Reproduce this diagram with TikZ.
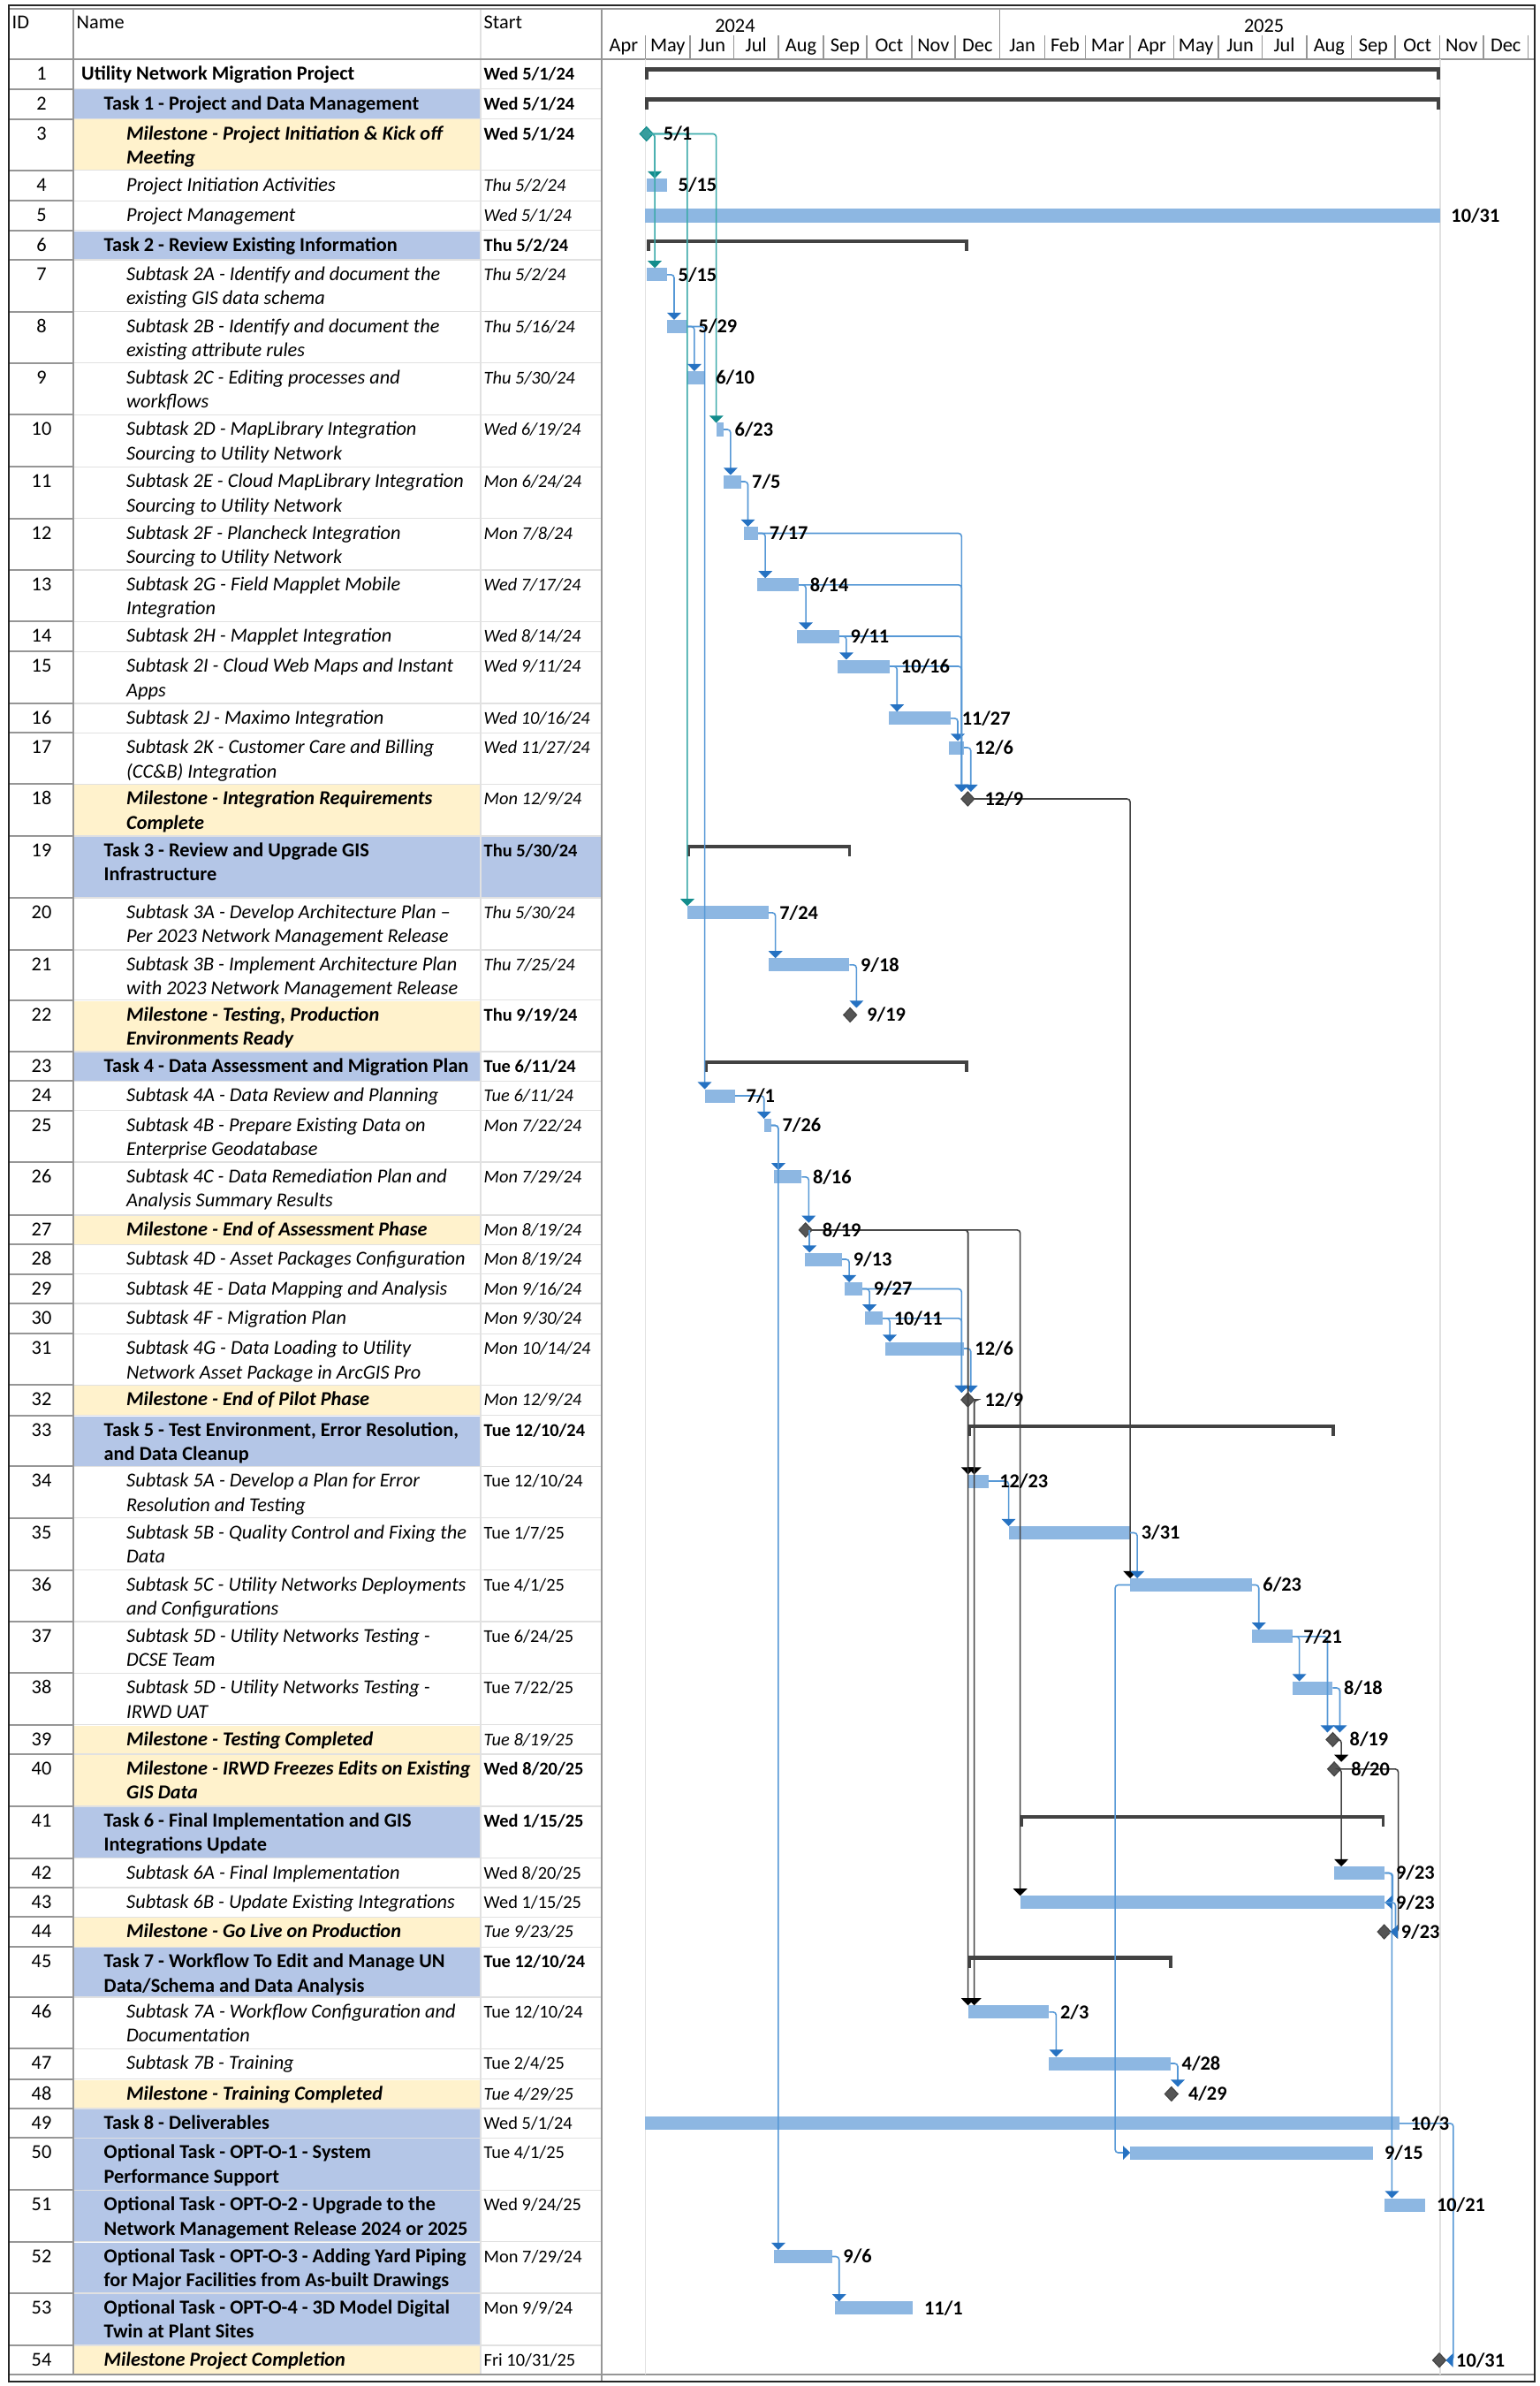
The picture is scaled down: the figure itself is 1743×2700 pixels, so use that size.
\documentclass[tikz,border=0pt]{standalone}
\usepackage{fontspec}
\setmainfont{Carlito}
\usetikzlibrary{arrows.meta,shapes.geometric,positioning,calc}

\definecolor{taskfill}{RGB}{180,198,231}
\definecolor{msfill}{RGB}{255,242,204}
\definecolor{barfill}{RGB}{141,183,226}
\definecolor{linkline}{RGB}{86,152,214}
\definecolor{linkhead}{RGB}{38,114,194}
\definecolor{critline}{RGB}{60,170,170}
\definecolor{crithead}{RGB}{18,140,140}
\definecolor{sumgray}{RGB}{66,66,66}
\definecolor{msgray}{RGB}{85,85,85}
\definecolor{rulegray}{RGB}{150,150,150}
\definecolor{lightrule}{RGB}{225,225,225}

\newcommand{\gfont}{\fontsize{6.35}{7.82}\selectfont}
\newcommand{\sfont}{\fontsize{5.8}{7.82}\selectfont}
\newcommand{\dayx}[1]{730.4+1.638*(#1)}

% one table row: id, top, name style, indent, name, start style, start
\newcommand{\trow}[7]{%
  \node[idtext] (id#1) at (47,{#2+3.4}) {\strut#1};
  \node[namecell,#3] (n#1) at (#4,{#2+3.4}) {\strut#5};
  \node[namecell,#6] (s#1) at (547,{#2+3.4}) {\strut#7};
}
% task bar: name, y, start day, finish day
\newcommand{\gbar}[4]{%
  \node[taskbar,minimum width={(#4-#3)*0.01638cm}] (#1) at ({\dayx{#3}},#2) {};}
% summary bracket: name, y, start day, finish day
\newcommand{\gsum}[4]{%
  \fill[sumgray] ({\dayx{#3}},{#2-7}) rectangle ({\dayx{#4}},{#2-2.5});
  \fill[sumgray] ({\dayx{#3}},{#2-7}) rectangle ({\dayx{#3}+3.5},{#2+6.5});
  \fill[sumgray] ({\dayx{#4}-3.5},{#2-7}) rectangle ({\dayx{#4}},{#2+6.5});
  \coordinate (#1) at ({\dayx{#3}},#2);}

\begin{document}
\begin{tikzpicture}[x=0.01cm,y=-0.01cm,
  idtext/.style={font=\gfont,anchor=north,inner sep=0},
  namecell/.style={anchor=north west,inner sep=0,align=left,font=\gfont},
  toprow/.style={font=\gfont\bfseries},
  taskrow/.style={font=\gfont\bfseries},
  subrow/.style={font=\gfont\itshape},
  msrow/.style={font=\gfont\bfseries\itshape},
  sbold/.style={font=\sfont\bfseries},
  sital/.style={font=\sfont\itshape},
  splain/.style={font=\sfont},
  hdr/.style={font=\gfont,anchor=base,inner sep=0},
  taskbar/.style={anchor=west,fill=barfill,inner sep=0,outer sep=0,minimum height=0.15cm},
  mstone/.style={diamond,fill=msgray,draw=sumgray,line width=0.3pt,inner sep=0,outer sep=0,minimum width=0.15cm,minimum height=0.16cm},
  dlabel/.style={font=\gfont\bfseries,inner sep=0},
  link/.style={draw=linkline,line width=0.45pt,rounded corners=1pt,-{Triangle[width=4.4pt,length=2.3pt,color=linkhead]}},
  critlink/.style={link,draw=critline,-{Triangle[width=4.4pt,length=2.3pt,color=crithead]}},
  blacklink/.style={link,draw=sumgray,-{Triangle[width=4.4pt,length=2.3pt,color=black]}}]
\useasboundingbox (0,0) rectangle (1743,2700);
\fill[white] (0,0) rectangle (1743,2700);

% row shading
\foreach \a/\b in {100.7/134.7,260.7/294,946/1016,1190/1223.3,1601.7/1659.3,2044/2102.7,2203.3/2260,2386/2419.3,2419.3/2478.3,2478.3/2536.7,2536.7/2595,2595/2654}
  \fill[taskfill] (84,{\a+0.8}) rectangle (544,{\b-0.4});
\fill[taskfill] (544,946.8) rectangle (681,1015.6);
\foreach \a/\b in {134.7/192.7,887.3/946,1131.7/1190,1375/1408.3,1567.3/1601.7,1951.7/1985,1985/2044,2169.3/2203.3,2352.7/2386,2654/2686.7}
  \fill[msfill] (84,{\a+0.8}) rectangle (544,{\b-0.4});

% table rules
\foreach \b in {100.7,134.7,192.7,227.3,260.7,294,352.7,410.7,469.3,528.3,586.7,645,703.3,737.3,796,829.3,887.3,946,1016,1075,1131.7,1190,1223.3,1256.7,1315,1375,1408.3,1441.7,1475,1509.3,1567.3,1601.7,1659.3,1717.7,1776.7,1835,1893.3,1951.7,1985,2044,2102.7,2136,2169.3,2203.3,2260,2318.3,2352.7,2386,2419.3,2478.3,2536.7,2595,2654} {
  \draw[rulegray,line width=0.5pt] (10,\b) -- (83,\b);
  \draw[lightrule,line width=0.4pt] (83,\b) -- (681,\b);
}
\draw[rulegray,line width=0.5pt] (83,10) -- (83,2686.7);
\draw[lightrule,line width=0.5pt] (544,10) -- (544,2686.7);
\draw[rulegray,line width=0.5pt] (681,10) -- (681,2695);
\draw[rulegray,line width=0.5pt] (10,66.7) -- (1737,66.7);
\draw[rulegray,line width=0.4pt] (10,10) -- (1737,10);
\draw[rulegray,line width=0.5pt] (10,2686.7) -- (1737,2686.7);
\draw[lightrule,line width=0.5pt] ({\dayx{0}},66.7) -- ({\dayx{0}},2686.7);
\draw[lightrule,line width=0.5pt] ({\dayx{549}},66.7) -- ({\dayx{549}},2686.7);
\draw[black!85,line width=0.6pt] (10,6) rectangle (1737,2695);

% header
\node[anchor=base west,inner sep=0,font=\gfont] (hid) at (13,33) {ID};
\node[anchor=base west,inner sep=0,font=\gfont] (hname) at (86,33) {Name};
\node[anchor=base west,inner sep=0,font=\gfont] (hstart) at (547,33) {Start};
\node[hdr] (y2024) at ({\dayx{62}},36.5) {2024};
\node[hdr] (y2025) at ({\dayx{427.5}},36.5) {2025};
\draw[rulegray,line width=0.4pt] ({\dayx{245}},10) -- ({\dayx{245}},66.7);
\foreach \s/\e/\m [count=\k] in {-30/0/Apr,0/31/May,31/61/Jun,61/92/Jul,92/123/Aug,123/153/Sep,153/184/Oct,184/214/Nov,214/245/Dec,245/276/Jan,276/304/Feb,304/335/Mar,335/365/Apr,365/396/May,396/426/Jun,426/457/Jul,457/488/Aug,488/518/Sep,518/549/Oct,549/579/Nov,579/610/Dec} {
  \draw[rulegray,line width=0.4pt] ({\dayx{\e}},40) -- ({\dayx{\e}},66.7);
  \node[hdr] (mon\k) at ({\dayx{(\s+\e)/2}},59) {\m};
}

% table rows
\trow{1}{66.7}{toprow}{91.5}{Utility Network Migration Project}{sbold}{Wed 5/1/24}
\trow{2}{100.7}{taskrow}{117}{Task 1 - Project and Data Management}{sbold}{Wed 5/1/24}
\trow{3}{134.7}{msrow}{142.5}{Milestone - Project Initiation \& Kick off\\Meeting}{sbold}{Wed 5/1/24}
\trow{4}{192.7}{subrow}{142.5}{Project Initiation Activities}{sital}{Thu 5/2/24}
\trow{5}{227.3}{subrow}{142.5}{Project Management}{sital}{Wed 5/1/24}
\trow{6}{260.7}{taskrow}{117}{Task 2 - Review Existing Information}{sbold}{Thu 5/2/24}
\trow{7}{294}{subrow}{142.5}{Subtask 2A - Identify and document the\\existing GIS data schema}{sital}{Thu 5/2/24}
\trow{8}{352.7}{subrow}{142.5}{Subtask 2B - Identify and document the\\existing attribute rules}{sital}{Thu 5/16/24}
\trow{9}{410.7}{subrow}{142.5}{Subtask 2C - Editing processes and\\workflows}{sital}{Thu 5/30/24}
\trow{10}{469.3}{subrow}{142.5}{Subtask 2D - MapLibrary Integration\\Sourcing to Utility Network}{sital}{Wed 6/19/24}
\trow{11}{528.3}{subrow}{142.5}{Subtask 2E - Cloud MapLibrary Integration\\Sourcing to Utility Network}{sital}{Mon 6/24/24}
\trow{12}{586.7}{subrow}{142.5}{Subtask 2F - Plancheck Integration\\Sourcing to Utility Network}{sital}{Mon 7/8/24}
\trow{13}{645}{subrow}{142.5}{Subtask 2G - Field Mapplet Mobile\\Integration}{sital}{Wed 7/17/24}
\trow{14}{703.3}{subrow}{142.5}{Subtask 2H - Mapplet Integration}{sital}{Wed 8/14/24}
\trow{15}{737.3}{subrow}{142.5}{Subtask 2I - Cloud Web Maps and Instant\\Apps}{sital}{Wed 9/11/24}
\trow{16}{796}{subrow}{142.5}{Subtask 2J - Maximo Integration}{sital}{Wed 10/16/24}
\trow{17}{829.3}{subrow}{142.5}{Subtask 2K - Customer Care and Billing\\(CC\&B) Integration}{sital}{Wed 11/27/24}
\trow{18}{887.3}{msrow}{142.5}{Milestone - Integration Requirements\\Complete}{sital}{Mon 12/9/24}
\trow{19}{946}{taskrow}{117}{Task 3 - Review and Upgrade GIS\\Infrastructure}{sbold}{Thu 5/30/24}
\trow{20}{1016}{subrow}{142.5}{Subtask 3A - Develop Architecture Plan –\\Per 2023 Network Management Release}{sital}{Thu 5/30/24}
\trow{21}{1075}{subrow}{142.5}{Subtask 3B - Implement Architecture Plan\\with 2023 Network Management Release}{sital}{Thu 7/25/24}
\trow{22}{1131.7}{msrow}{142.5}{Milestone - Testing, Production\\Environments Ready}{sbold}{Thu 9/19/24}
\trow{23}{1190}{taskrow}{117}{Task 4 - Data Assessment and Migration Plan}{sbold}{Tue 6/11/24}
\trow{24}{1223.3}{subrow}{142.5}{Subtask 4A - Data Review and Planning}{sital}{Tue 6/11/24}
\trow{25}{1256.7}{subrow}{142.5}{Subtask 4B - Prepare Existing Data on\\Enterprise Geodatabase}{sital}{Mon 7/22/24}
\trow{26}{1315}{subrow}{142.5}{Subtask 4C - Data Remediation Plan and\\Analysis Summary Results}{sital}{Mon 7/29/24}
\trow{27}{1375}{msrow}{142.5}{Milestone - End of Assessment Phase}{sital}{Mon 8/19/24}
\trow{28}{1408.3}{subrow}{142.5}{Subtask 4D - Asset Packages Configuration}{sital}{Mon 8/19/24}
\trow{29}{1441.7}{subrow}{142.5}{Subtask 4E - Data Mapping and Analysis}{sital}{Mon 9/16/24}
\trow{30}{1475}{subrow}{142.5}{Subtask 4F - Migration Plan}{sital}{Mon 9/30/24}
\trow{31}{1509.3}{subrow}{142.5}{Subtask 4G - Data Loading to Utility\\Network Asset Package in ArcGIS Pro}{sital}{Mon 10/14/24}
\trow{32}{1567.3}{msrow}{142.5}{Milestone - End of Pilot Phase}{sital}{Mon 12/9/24}
\trow{33}{1601.7}{taskrow}{117}{Task 5 - Test Environment, Error Resolution,\\and Data Cleanup}{sbold}{Tue 12/10/24}
\trow{34}{1659.3}{subrow}{142.5}{Subtask 5A - Develop a Plan for Error\\Resolution and Testing}{splain}{Tue 12/10/24}
\trow{35}{1717.7}{subrow}{142.5}{Subtask 5B - Quality Control and Fixing the\\Data}{splain}{Tue 1/7/25}
\trow{36}{1776.7}{subrow}{142.5}{Subtask 5C - Utility Networks Deployments\\and Configurations}{splain}{Tue 4/1/25}
\trow{37}{1835}{subrow}{142.5}{Subtask 5D - Utility Networks Testing -\\DCSE Team}{splain}{Tue 6/24/25}
\trow{38}{1893.3}{subrow}{142.5}{Subtask 5D - Utility Networks Testing -\\IRWD UAT}{splain}{Tue 7/22/25}
\trow{39}{1951.7}{msrow}{142.5}{Milestone - Testing Completed}{sital}{Tue 8/19/25}
\trow{40}{1985}{msrow}{142.5}{Milestone - IRWD Freezes Edits on Existing\\GIS Data}{sbold}{Wed 8/20/25}
\trow{41}{2044}{taskrow}{117}{Task 6 - Final Implementation and GIS\\Integrations Update}{sbold}{Wed 1/15/25}
\trow{42}{2102.7}{subrow}{142.5}{Subtask 6A - Final Implementation}{splain}{Wed 8/20/25}
\trow{43}{2136}{subrow}{142.5}{Subtask 6B - Update Existing Integrations}{splain}{Wed 1/15/25}
\trow{44}{2169.3}{msrow}{142.5}{Milestone - Go Live on Production}{sital}{Tue 9/23/25}
\trow{45}{2203.3}{taskrow}{117}{Task 7 - Workflow To Edit and Manage UN\\Data/Schema and Data Analysis}{sbold}{Tue 12/10/24}
\trow{46}{2260}{subrow}{142.5}{Subtask 7A - Workflow Configuration and\\Documentation}{splain}{Tue 12/10/24}
\trow{47}{2318.3}{subrow}{142.5}{Subtask 7B - Training}{splain}{Tue 2/4/25}
\trow{48}{2352.7}{msrow}{142.5}{Milestone - Training Completed}{sital}{Tue 4/29/25}
\trow{49}{2386}{taskrow}{117}{Task 8 - Deliverables}{splain}{Wed 5/1/24}
\trow{50}{2419.3}{taskrow}{117}{Optional Task - OPT-O-1 - System\\Performance Support}{splain}{Tue 4/1/25}
\trow{51}{2478.3}{taskrow}{117}{Optional Task - OPT-O-2 - Upgrade to the\\Network Management Release 2024 or 2025}{splain}{Wed 9/24/25}
\trow{52}{2536.7}{taskrow}{117}{Optional Task - OPT-O-3 - Adding Yard Piping\\for Major Facilities from As-built Drawings}{splain}{Mon 7/29/24}
\trow{53}{2595}{taskrow}{117}{Optional Task - OPT-O-4 - 3D Model Digital\\Twin at Plant Sites}{splain}{Mon 9/9/24}
\trow{54}{2654}{msrow}{117}{Milestone Project Completion}{splain}{Fri 10/31/25}

% summary brackets
\gsum{g1}{83.5}{0}{549}
\gsum{g2}{117.5}{0}{549}
\gsum{g6}{277.5}{1}{223}
\gsum{g19}{962.8}{29}{142}
\gsum{g23}{1206.8}{41}{223}
\gsum{g33}{1618.5}{223}{476.5}
\gsum{g41}{2060.8}{259}{511}
\gsum{g45}{2220}{223}{364}

% task bars
\gbar{t4}{209.5}{1}{15}
\gbar{t5}{244}{0}{549}
\gbar{t7}{310.8}{1}{15}
\gbar{t8}{369.5}{15}{29}
\gbar{t9}{427.5}{29}{41}
\gbar{t10}{486}{49}{54}
\gbar{t11}{545}{54}{66}
\gbar{t12}{603.5}{68}{78}
\gbar{t13}{661.8}{77}{106}
\gbar{t14}{720}{105}{134}
\gbar{t15}{754}{133}{169}
\gbar{t16}{812.8}{168}{211}
\gbar{t17}{846}{210}{220}
\gbar{t20}{1032.8}{29}{85}
\gbar{t21}{1091.8}{85}{141}
\gbar{t24}{1240}{41}{62}
\gbar{t25}{1273.5}{82}{87}
\gbar{t26}{1331.8}{89}{108}
\gbar{t28}{1425}{110}{136}
\gbar{t29}{1458.5}{138}{150}
\gbar{t30}{1491.8}{152}{164}
\gbar{t31}{1526}{166}{220}
\gbar{t34}{1676}{223}{237}
\gbar{t35}{1734.5}{251}{335}
\gbar{t36}{1793.5}{335}{419}
\gbar{t37}{1851.8}{419}{447}
\gbar{t38}{1910}{447}{475}
\gbar{t42}{2119.5}{476}{511}
\gbar{t43}{2152.8}{259}{511}
\gbar{t46}{2276.8}{223}{279}
\gbar{t47}{2335}{279}{363}
\gbar{t49}{2402.8}{0}{521}
\gbar{t50}{2436}{335}{503}
\gbar{t51}{2495}{511}{539}
\gbar{t52}{2553.5}{89}{129}
\gbar{t53}{2611.8}{131}{185}

% milestones
\node[mstone,fill=crithead!85,draw=crithead] (m3) at ({\dayx{0.8}},151.5) {};
\node[mstone] (m18) at ({\dayx{222.8}},904) {};
\node[mstone] (m22) at ({\dayx{141.5}},1148.5) {};
\node[mstone] (m27) at ({\dayx{110.7}},1391.8) {};
\node[mstone] (m32) at ({\dayx{222.8}},1584) {};
\node[mstone] (m39) at ({\dayx{475}},1968.5) {};
\node[mstone] (m40) at ({\dayx{476}},2001.8) {};
\node[mstone] (m44) at ({\dayx{510.5}},2186) {};
\node[mstone] (m48) at ({\dayx{363.5}},2369.5) {};
\node[mstone] (m54) at ({\dayx{548.6}},2670.8) {};

% links from the kick off milestone
\draw[critlink] (m3.east) -| ($(t4.north west)+(9,0)$);
\draw[critlink] (m3.east) -| ($(t7.north west)+(9,0)$);
\draw[critlink] (m3.east) -| (t20.north west);
\draw[critlink] (m3.east) -| (t10.north west);

% task 2 links
\draw[link] (t7.east) -| ($(t7.east |- t8.north)+(8,0)$);
\draw[link] (t8.east) -| ($(t8.east |- t9.north)+(8,0)$);
\draw[link] (t8.east) -| (t24.north west);
\draw[link] (t10.east) -| ($(t10.east |- t11.north)+(8,0)$);
\draw[link] (t11.east) -| ($(t11.east |- t12.north)+(8,0)$);
\draw[link] (t12.east) -| ($(t12.east |- t13.north)+(8,0)$);
\draw[link] (t13.east) -| ($(t13.east |- t14.north)+(8,0)$);
\draw[link] (t14.east) -| ($(t14.east |- t15.north)+(8,0)$);
\draw[link] (t15.east) -| ($(t15.east |- t16.north)+(8,0)$);
\draw[link] (t16.east) -| ($(t16.east |- t17.north)+(8,0)$);
\foreach \p in {t12,t13,t14,t15}
  \draw[link] (\p.east) -| ($(m18.north)+(-7,0)$);
\draw[link] (t17.east) -| ($(t17.east |- m18.north)+(8,0)$);

% task 3 links
\draw[link] (t20.east) -| ($(t20.east |- t21.north)+(8,0)$);
\draw[link] (t21.east) -| ($(t21.east |- m22.north)+(8,0)$);

% task 4 links
\draw[link] (t24.east) -| (t25.north west);
\draw[link] (t25.east) -| ($(t25.east |- t26.north)+(8,0)$);
\draw[link] (t25.east) -| ($(t25.east |- t52.north)+(8,0)$);
\draw[link] (t26.east) -| ($(t26.east |- m27.north)+(8,0)$);
\draw[link] ($(m27.center)+(4.5,0)$) -- ($(m27.center |- t28.north)+(4.5,0)$);
\draw[link] (t28.east) -| ($(t28.east |- t29.north)+(8,0)$);
\draw[link] (t29.east) -| ($(t29.east |- t30.north)+(8,0)$);
\draw[link] (t30.east) -| ($(t30.east |- t31.north)+(8,0)$);
\foreach \p in {t29,t30}
  \draw[link] (\p.east) -| ($(m32.north)+(-7,0)$);
\draw[link] (t31.east) -| ($(t31.east |- m32.north)+(8,0)$);

% task 5 and 6 links
\draw[blacklink] (m18.east) -| (t36.north west);
\draw[blacklink] (m27.east) -| (t34.north west);
\draw[blacklink] (m27.east) -| (t46.north west);
\draw[blacklink] (m27.east) -| (t43.north west);
\draw[blacklink] (m32.east) -| ($(t34.north west)+(7,0)$);
\draw[blacklink] (m32.east) -| ($(t46.north west)+(7,0)$);
\draw[link] (t34.east) -| (t35.north west);
\draw[link] (t35.east) -| ($(t35.east |- t36.north)+(8,0)$);
\draw[link] (t36.west) -- ++(-17,0) |- (t50.west);
\draw[link] (t36.east) -| ($(t36.east |- t37.north)+(8,0)$);
\draw[link] (t37.east) -| ($(t37.east |- t38.north)+(8,0)$);
\draw[link] (t37.east) -| ($(m39.north)+(-6,0)$);
\draw[link] (t38.east) -| ($(t38.east |- m39.north)+(8,0)$);
\draw[blacklink] (m39.east) -| ($(m40.north)+(8,0)$);
\draw[blacklink] (m40.east) -| ($(t42.north west)+(8,0)$);
\draw[blacklink] (m40.east) -- ++(65,0) |- (m44.east);
\draw[link] (t42.east) -| ($(t42.east |- t51.north)+(8,0)$);
\draw[link] (t42.east) -- ++(9,0) |- (t43.east);
\draw[link] (t43.east) -- ++(12,0) |- (m44.east);

% task 7, 8 and optional links
\draw[link] (t46.east) -| ($(t46.east |- t47.north)+(8,0)$);
\draw[link] (t47.east) -| ($(t47.east |- m48.north)+(8,0)$);
\draw[link] (t49.east) -- ++(61,0) |- (m54.east);
\draw[link] (t52.east) -| ($(t52.east |- t53.north)+(8,0)$);

% finish dates
\node[dlabel,right=0.11cm of m3] (l3) {5/1};
\node[dlabel,right=0.12cm of t4] (l4) {5/15};
\node[dlabel,right=0.12cm of t5] (l5) {10/31};
\node[dlabel,right=0.12cm of t7] (l7) {5/15};
\node[dlabel,right=0.12cm of t8] (l8) {5/29};
\node[dlabel,right=0.12cm of t9] (l9) {6/10};
\node[dlabel,right=0.12cm of t10] (l10) {6/23};
\node[dlabel,right=0.12cm of t11] (l11) {7/5};
\node[dlabel,right=0.12cm of t12] (l12) {7/17};
\node[dlabel,right=0.12cm of t13] (l13) {8/14};
\node[dlabel,right=0.12cm of t14] (l14) {9/11};
\node[dlabel,right=0.12cm of t15] (l15) {10/16};
\node[dlabel,right=0.12cm of t16] (l16) {11/27};
\node[dlabel,right=0.12cm of t17] (l17) {12/6};
\node[dlabel,right=0.11cm of m18] (l18) {12/9};
\node[dlabel,right=0.12cm of t20] (l20) {7/24};
\node[dlabel,right=0.12cm of t21] (l21) {9/18};
\node[dlabel,right=0.11cm of m22] (l22) {9/19};
\node[dlabel,right=0.12cm of t24] (l24) {7/1};
\node[dlabel,right=0.12cm of t25] (l25) {7/26};
\node[dlabel,right=0.12cm of t26] (l26) {8/16};
\node[dlabel,right=0.11cm of m27] (l27) {8/19};
\node[dlabel,right=0.12cm of t28] (l28) {9/13};
\node[dlabel,right=0.12cm of t29] (l29) {9/27};
\node[dlabel,right=0.12cm of t30] (l30) {10/11};
\node[dlabel,right=0.12cm of t31] (l31) {12/6};
\node[dlabel,right=0.11cm of m32] (l32) {12/9};
\node[dlabel,right=0.12cm of t34] (l34) {12/23};
\node[dlabel,right=0.12cm of t35] (l35) {3/31};
\node[dlabel,right=0.12cm of t36] (l36) {6/23};
\node[dlabel,right=0.12cm of t37] (l37) {7/21};
\node[dlabel,right=0.12cm of t38] (l38) {8/18};
\node[dlabel,right=0.11cm of m39] (l39) {8/19};
\node[dlabel,right=0.11cm of m40] (l40) {8/20};
\node[dlabel,right=0.12cm of t42] (l42) {9/23};
\node[dlabel,right=0.12cm of t43] (l43) {9/23};
\node[dlabel,right=0.11cm of m44] (l44) {9/23};
\node[dlabel,right=0.12cm of t46] (l46) {2/3};
\node[dlabel,right=0.12cm of t47] (l47) {4/28};
\node[dlabel,right=0.11cm of m48] (l48) {4/29};
\node[dlabel,right=0.12cm of t49] (l49) {10/3};
\node[dlabel,right=0.12cm of t50] (l50) {9/15};
\node[dlabel,right=0.12cm of t51] (l51) {10/21};
\node[dlabel,right=0.12cm of t52] (l52) {9/6};
\node[dlabel,right=0.12cm of t53] (l53) {11/1};
\node[dlabel,right=0.11cm of m54] (l54) {10/31};
\end{tikzpicture}
\end{document}
